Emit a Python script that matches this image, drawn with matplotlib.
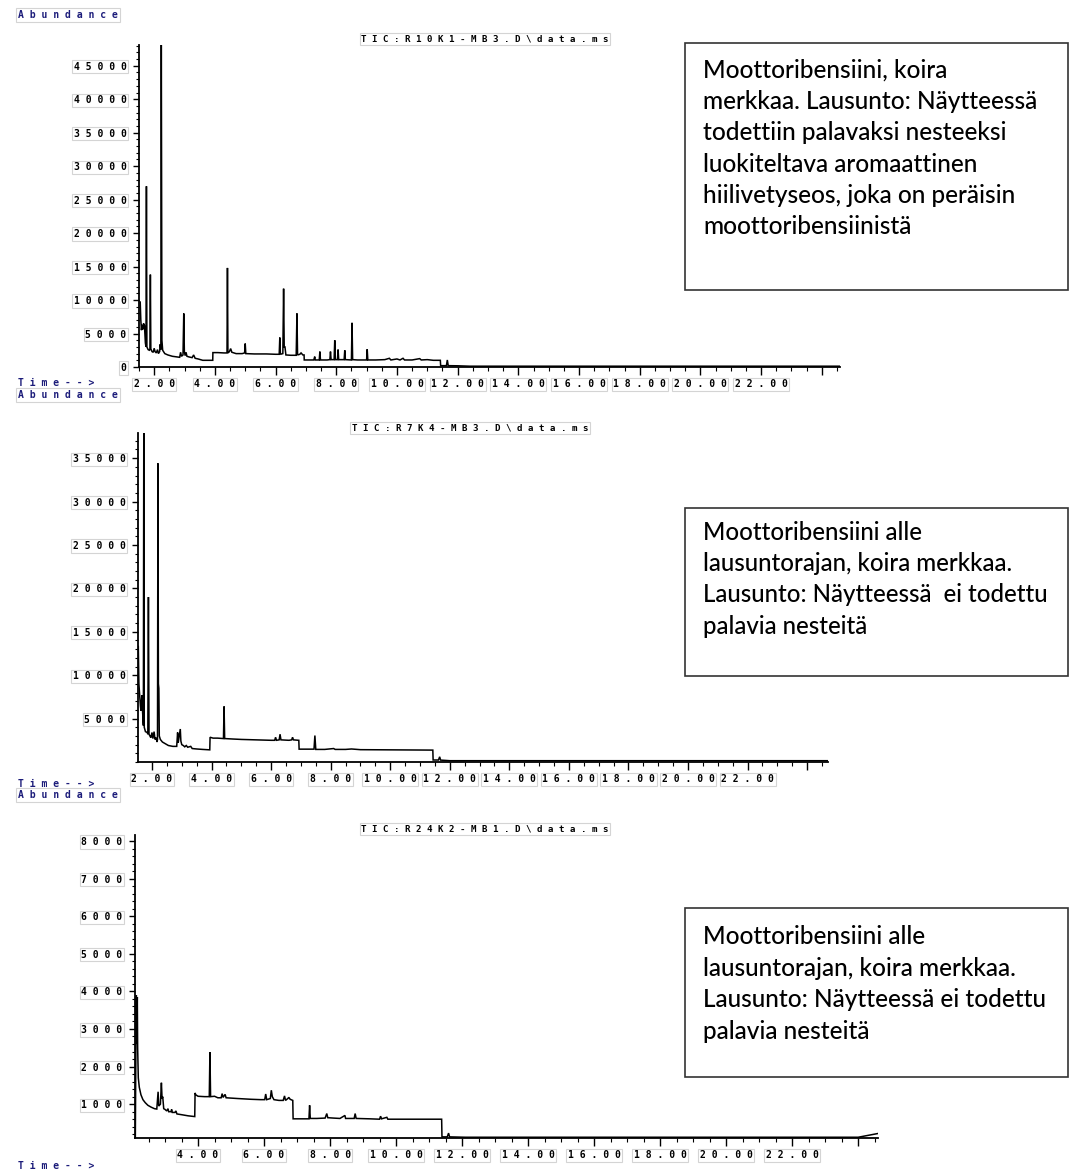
import matplotlib
matplotlib.use("Agg")
import matplotlib.pyplot as plt
from matplotlib.patches import Rectangle
from matplotlib.ticker import MultipleLocator

# ---------------- data ----------------
title1 = "TIC: R10K1-MB3.D\\data.ms"
title2 = "TIC: R7K4-MB3.D\\data.ms"
title3 = "TIC: R24K2-MB1.D\\data.ms"

time1 = [1.54, 1.56, 1.58, 1.60, 1.62, 1.65, 1.68, 1.71, 1.73, 1.745, 1.76, 1.80, 1.84, 1.86, 1.875, 1.89,
         1.93, 1.97, 2.00, 2.03, 2.07, 2.11, 2.14, 2.18, 2.20, 2.22, 2.235, 2.255, 2.28, 2.35, 2.45, 2.60,
         2.75, 2.84, 2.87, 2.90, 2.95, 2.975, 2.995, 3.02, 3.05, 3.08, 3.15, 3.25, 3.30, 3.35, 3.45, 3.60,
         3.80, 3.93, 3.935, 4.10, 4.30, 4.40, 4.415, 4.43, 4.48, 4.52, 4.56, 4.70, 4.90, 4.98, 5.00, 5.02,
         5.30, 5.70, 6.00, 6.12, 6.14, 6.16, 6.24, 6.265, 6.285, 6.31, 6.34, 6.50, 6.68, 6.705, 6.725, 6.80,
         6.84, 6.90, 6.94, 6.945, 7.10, 7.26, 7.29, 7.31, 7.44, 7.46, 7.48, 7.70, 7.79, 7.81, 7.83, 7.93,
         7.95, 7.97, 8.04, 8.06, 8.08, 8.26, 8.28, 8.30, 8.50, 8.52, 8.54, 8.70, 9.00, 9.02, 9.04, 9.30,
         9.60, 9.75, 9.80, 10.00, 10.10, 10.20, 10.25, 10.50, 10.75, 10.80, 11.00, 11.20, 11.43, 11.44,
         11.63, 11.66, 11.69, 12.00, 12.40, 24.60]
abund1 = [9700, 7000, 5500, 6300, 5600, 6500, 6200, 3600, 3000, 27000, 3000, 2600, 2500, 2600, 13800, 2700,
          2300, 2200, 2800, 2300, 2100, 2600, 2000, 2300, 3400, 2600, 49000, 4000, 2500, 2000, 1800, 1600,
          1500, 1450, 2200, 1600, 1800, 8000, 2300, 1700, 2200, 1600, 1500, 1400, 1800, 1300, 1200, 1000,
          1000, 1000, 2150, 2150, 2100, 2100, 14800, 2100, 2300, 2750, 2200, 2000, 2000, 2100, 3500, 2000,
          1950, 1950, 1900, 1900, 4400, 1900, 2000, 11700, 3000, 3000, 1800, 1750, 1750, 8000, 1800, 1900,
          2100, 1800, 1800, 1050, 1050, 1050, 1550, 1050, 1050, 2300, 1050, 1050, 1100, 2300, 1100, 1100,
          4000, 1100, 1100, 2600, 1100, 1100, 2500, 1100, 1050, 6600, 1100, 1050, 1050, 2650, 1050, 1050,
          1100, 1300, 1050, 1200, 1050, 1300, 1050, 1050, 1250, 1050, 1100, 1000, 1000, 200,
          200, 1050, 200, 180, 120, 120]

time2 = [1.54, 1.56, 1.58, 1.61, 1.63, 1.66, 1.68, 1.71, 1.725, 1.74, 1.78, 1.84, 1.86, 1.88, 1.90,
         1.93, 1.96, 2.00, 2.03, 2.07, 2.10, 2.14, 2.17, 2.185, 2.20, 2.215, 2.23, 2.245, 2.28, 2.35,
         2.45, 2.55, 2.70, 2.83, 2.86, 2.88, 2.95, 2.97, 3.00, 3.05, 3.10, 3.15, 3.20, 3.30, 3.35, 3.50,
         3.70, 3.94, 3.95, 4.05, 4.20, 4.40, 4.42, 4.44, 4.70, 5.00, 5.50, 6.00, 6.12, 6.15, 6.18, 6.27,
         6.30, 6.33, 6.60, 6.69, 6.72, 6.75, 6.93, 6.94, 7.20, 7.44, 7.47, 7.50, 7.80, 8.10, 8.15, 8.50,
         8.70, 9.00, 10.00, 11.00, 11.43, 11.44, 11.62, 11.66, 11.69, 12.00, 24.70]
abund2 = [13300, 9000, 8000, 6500, 5900, 7700, 6000, 4200, 40000, 4000, 3500, 3400, 3200, 19000, 3200,
          3000, 2800, 3400, 2700, 3500, 2600, 2800, 2300, 2600, 34400, 9000, 8500, 3000, 2600, 2300,
          2100, 1900, 1800, 1800, 3400, 2200, 3800, 2400, 2000, 1900, 1750, 1900, 1700, 1800, 1550, 1500,
          1450, 1400, 2850, 2750, 2750, 2700, 6400, 2700, 2650, 2600, 2550, 2500, 2500, 2850, 2500, 2550,
          3200, 2550, 2500, 2550, 2850, 2550, 2500, 1480, 1480, 1480, 3050, 1450, 1450, 1550, 1450, 1450,
          1500, 1420, 1400, 1380, 1370, 230, 230, 600, 220, 150, 150]

time3 = [2.10, 2.12, 2.13, 2.145, 2.16, 2.17, 2.19, 2.22, 2.27, 2.33, 2.40, 2.48, 2.58, 2.68, 2.75, 2.79,
         2.81, 2.86, 2.89, 2.91, 2.93, 2.96, 3.00, 3.05, 3.09, 3.11, 3.18, 3.20, 3.22, 3.30, 3.33, 3.36,
         3.50, 3.70, 3.90, 3.91, 3.93, 4.00, 4.20, 4.34, 4.36, 4.38, 4.50, 4.60, 4.70, 4.73, 4.76, 4.82,
         4.85, 5.20, 5.60, 5.90, 6.02, 6.05, 6.08, 6.19, 6.22, 6.25, 6.30, 6.45, 6.58, 6.62, 6.65, 6.72,
         6.75, 6.79, 6.87, 6.88, 7.20, 7.36, 7.38, 7.40, 7.60, 7.85, 7.90, 7.93, 8.10, 8.30, 8.45, 8.47,
         8.73, 8.76, 8.79, 9.20, 9.50, 9.53, 9.56, 9.72, 9.75, 10.50, 11.00, 11.38, 11.39, 11.55, 11.59,
         11.62, 12.10, 24.00, 24.30, 24.60]
abund3 = [100, 3000, 3900, 2600, 3850, 2500, 1700, 1450, 1250, 1120, 1040, 970, 920, 880, 870, 1330,
          950, 1000, 1570, 1150, 1200, 880, 860, 820, 880, 800, 800, 860, 780, 780, 820, 740,
          720, 690, 670, 1300, 1250, 1210, 1200, 1200, 2380, 1200, 1210, 1170, 1170, 1280, 1180, 1260,
          1170, 1150, 1130, 1120, 1120, 1270, 1120, 1150, 1370, 1200, 1120, 1100, 1100, 1220, 1100, 1150,
          1180, 1130, 1100, 610, 610, 610, 970, 620, 620, 630, 750, 640, 630, 620, 700, 620,
          620, 750, 620, 610, 600, 680, 610, 650, 600, 600, 600, 600, 130, 130, 230,
          130, 120, 120, 170, 220]

yticks1 = [0, 5000, 10000, 15000, 20000, 25000, 30000, 35000, 40000, 45000]
yticks2 = [5000, 10000, 15000, 20000, 25000, 30000, 35000]
yticks3 = [1000, 2000, 3000, 4000, 5000, 6000, 7000, 8000]
xticks12 = [2, 4, 6, 8, 10, 12, 14, 16, 18, 20, 22, 24]
xticks3 = [4, 6, 8, 10, 12, 14, 16, 18, 20, 22, 24]
xlabels_last = 22

note1 = ["Moottoribensiini, koira", "merkkaa. Lausunto: Näytteessä", "todettiin palavaksi nesteeksi",
         "luokiteltava aromaattinen", "hiilivetyseos, joka on peräisin", "moottoribensiinistä"]
note2 = ["Moottoribensiini alle", "lausuntorajan, koira merkkaa.", "Lausunto: Näytteessä  ei todettu",
         "palavia nesteitä"]
note3 = ["Moottoribensiini alle", "lausuntorajan, koira merkkaa.", "Lausunto: Näytteessä ei todettu",
         "palavia nesteitä"]

# ---------------- layout ----------------
W, H = 1071, 1172
fig = plt.figure(figsize=(W / 100, H / 100), dpi=100)
fig.patch.set_facecolor("white")

MONO = "DejaVu Sans Mono"
NAVY = "#1c1c7a"
BOXEDGE = "#d4d4d4"


def spaced(s):
    return " ".join(s.replace(" ", ""))


def px(x, y):
    return x / W, 1 - y / H


def make_panel(l, r, t, b, time, abund, xlim, ylim, yticks, yminor, xticks, title, tpos):
    ax = fig.add_axes([l / W, 1 - b / H, (r - l) / W, (b - t) / H])
    ax.plot(time, abund, color="black", lw=1.1, solid_joinstyle="miter")
    ax.set_xlim(*xlim)
    ax.set_ylim(*ylim)
    for s in ["top", "right"]:
        ax.spines[s].set_visible(False)
    for s in ["left", "bottom"]:
        ax.spines[s].set_linewidth(1.3)
    ax.set_yticks(yticks, [spaced(str(v)) for v in yticks])
    ax.yaxis.set_minor_locator(MultipleLocator(yminor))
    ax.set_xticks(xticks, [spaced(f"{v:.2f}") if v <= xlabels_last else "" for v in xticks])
    ax.xaxis.set_minor_locator(MultipleLocator(0.5))
    ax.tick_params(axis="y", which="major", length=4, width=1, pad=5)
    ax.tick_params(axis="y", which="minor", length=2, width=0.8)
    ax.tick_params(axis="x", which="major", length=6, width=1, pad=3)
    ax.tick_params(axis="x", which="minor", length=3, width=0.8)
    for lbl in ax.get_yticklabels() + ax.get_xticklabels():
        lbl.set_fontfamily(MONO)
        lbl.set_fontweight("bold")
        lbl.set_fontsize(7)
        if lbl.get_text():
            lbl.set_bbox(dict(facecolor="white", edgecolor=BOXEDGE, lw=0.8, pad=1.2))
    fig.text(*px(*tpos), spaced(title), ha="center", va="center", family=MONO,
             fontsize=6.6, fontweight="bold",
             bbox=dict(facecolor="white", edgecolor=BOXEDGE, lw=0.8, pad=1.2))
    return ax


make_panel(139, 840, 45, 367, time1, abund1, (1.5, 24.6), (0, 48100), yticks1, 1000,
           xticks12, title1, (485, 39))
make_panel(138, 828, 433, 762, time2, abund2, (1.53, 24.7), (0, 37900), yticks2, 1000,
           xticks12, title2, (470, 428))
make_panel(135, 878, 835, 1138, time3, abund3, (2.09, 24.6), (100, 8160), yticks3, 200,
           xticks3, title3, (485, 829))

# axis captions ("Time-->" tucked just above the next "Abundance")
for y in (383, 784):
    fig.text(*px(18, y), spaced("Time-->"), ha="left", va="center", family=MONO,
             fontsize=7, fontweight="bold", color=NAVY, zorder=1)
fig.text(*px(18, 1166), spaced("Time-->"), ha="left", va="center", family=MONO,
         fontsize=7, fontweight="bold", color=NAVY)
for y in (15, 395, 795):
    fig.text(*px(18, y), spaced("Abundance"), ha="left", va="center", family=MONO,
             fontsize=7, fontweight="bold", color=NAVY, zorder=5,
             bbox=dict(facecolor="white", edgecolor=BOXEDGE, lw=0.8, pad=1.5))

# note boxes
NOTEFONT = "Lato"
for (top, bot, lines, y0, fs) in [(43, 290, note1, 70, 17.6), (508, 676, note2, 532, 17.3),
                                  (908, 1077, note3, 937, 17.6)]:
    fig.patches.append(Rectangle(px(685, bot), (1068 - 685) / W, (bot - top) / H,
                                 transform=fig.transFigure, facecolor="white",
                                 edgecolor="#333333", lw=1.2, zorder=0))
    for i, line in enumerate(lines):
        fig.text(*px(703, y0 + i * 31.4), line, ha="left", va="center", family=NOTEFONT,
                 fontsize=fs, fontweight="medium", color="black")

fig.savefig("out.png", dpi=100)
